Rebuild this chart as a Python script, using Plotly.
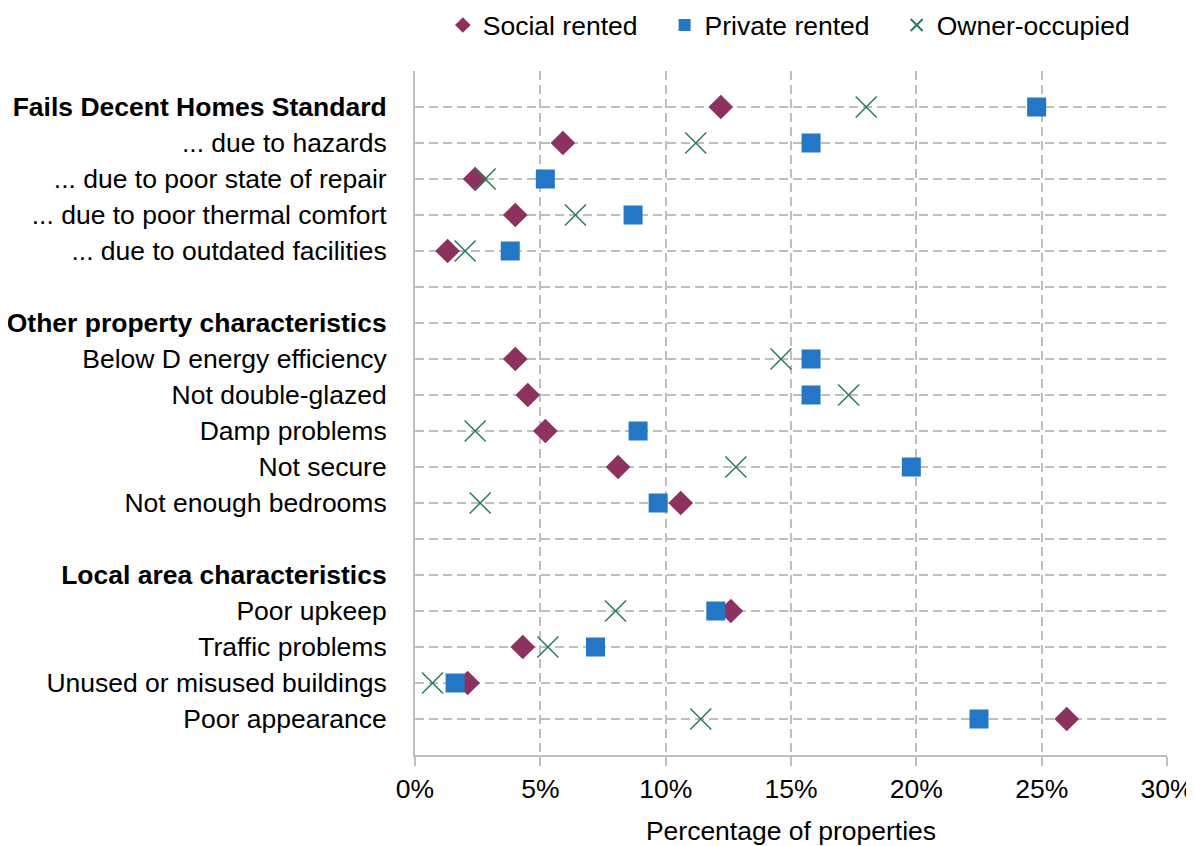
import plotly.graph_objects as go

categories = [
    "<b>Fails Decent Homes Standard</b>",
    "... due to hazards",
    "... due to poor state of repair",
    "... due to poor thermal comfort",
    "... due to outdated facilities",
    "",
    "<b>Other property characteristics</b>",
    "Below D energy efficiency",
    "Not double-glazed",
    "Damp problems",
    "Not secure",
    "Not enough bedrooms",
    "",
    "<b>Local area characteristics</b>",
    "Poor upkeep",
    "Traffic problems",
    "Unused or misused buildings",
    "Poor appearance",
]

social_rented = [12.2, 5.9, 2.4, 4.0, 1.3, None, None, 4.0, 4.5, 5.2, 8.1, 10.6, None, None, 12.6, 4.3, 2.1, 26.0]
private_rented = [24.8, 15.8, 5.2, 8.7, 3.8, None, None, 15.8, 15.8, 8.9, 19.8, 9.7, None, None, 12.0, 7.2, 1.6, 22.5]
owner_occupied = [18.0, 11.2, 2.8, 6.4, 2.0, None, None, 14.6, 17.3, 2.4, 12.8, 2.6, None, None, 8.0, 5.3, 0.7, 11.4]

x_ticks = [0, 5, 10, 15, 20, 25, 30]

pos = list(range(1, len(categories) + 1))

FONT = "Liberation Sans, Arial, sans-serif"
GRID = "#BFBFBF"
FS = 26.5
PAD = "\u00a0\u00a0\u00a0"

fig = go.Figure()
fig.add_trace(go.Scatter(
    x=social_rented, y=pos, mode="markers", name="Social rented" + PAD,
    marker=dict(symbol="diamond", size=19, color="#8C3160"),
))
fig.add_trace(go.Scatter(
    x=private_rented, y=pos, mode="markers", name="Private rented" + PAD,
    marker=dict(symbol="square", size=19, color="#2477C7"),
))
fig.add_trace(go.Scatter(
    x=owner_occupied, y=pos, mode="markers", name="Owner-occupied",
    marker=dict(symbol="x-thin", size=21, color="#2B7A5E",
                line=dict(color="#2B7A5E", width=1.5)),
))

yvals = list(range(0, len(categories) + 2))
ytext = [""] + categories + [""]

fig.update_layout(
    width=1186, height=838,
    margin=dict(l=407, r=27, t=63, b=91, autoexpand=False),
    plot_bgcolor="white", paper_bgcolor="white",
    font=dict(family=FONT, size=FS, color="black"),
    showlegend=True,
    legend=dict(orientation="h", x=0.037, xanchor="left", y=1.102, yanchor="top",
                yref="paper",
                font=dict(size=FS), itemsizing="constant",
                bgcolor="rgba(0,0,0,0)"),
    xaxis=dict(
        range=[0, 30], tickvals=x_ticks, ticktext=[f"{v}%" for v in x_ticks],
        showgrid=True, gridcolor=GRID, griddash="9px,5px", gridwidth=2,
        showline=True, linecolor=GRID, linewidth=2,
        ticks="outside", ticklen=9, tickcolor=GRID, tickwidth=2,
        zeroline=False, automargin=False,
        title=dict(text="Percentage of properties", standoff=22, font=dict(size=FS)),
        tickfont=dict(size=FS),
    ),
    yaxis=dict(
        range=[len(categories) + 1, 0], tickvals=yvals, ticktext=ytext,
        showgrid=True, gridcolor=GRID, griddash="9px,5px", gridwidth=2,
        showline=True, linecolor=GRID, linewidth=2,
        ticks="", zeroline=False, ticklabelstandoff=21, automargin=False,
        tickfont=dict(size=FS),
    ),
)

fig.write_html("out.html")
